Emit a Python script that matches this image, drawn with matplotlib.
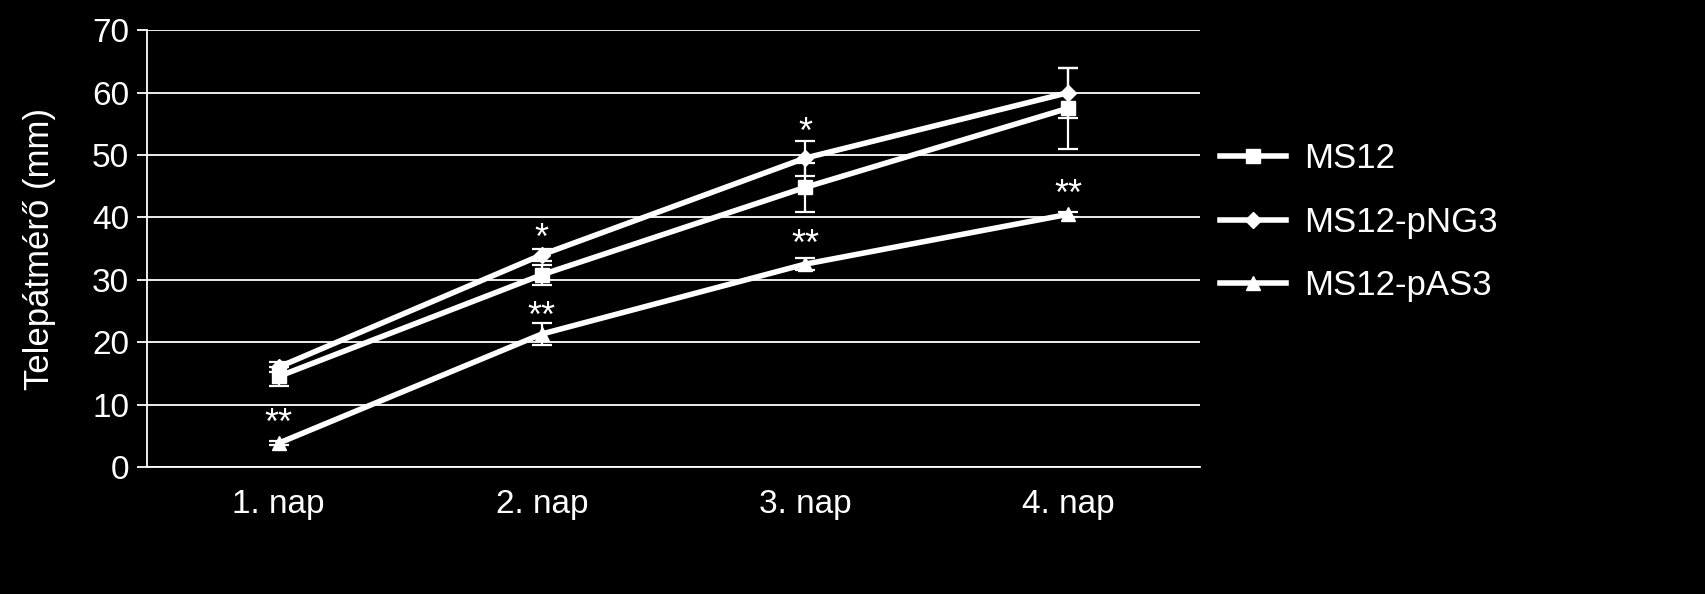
import matplotlib.pyplot as plt
from matplotlib.lines import Line2D
import numpy as np

plt.rcParams['font.family'] = ['Liberation Sans', 'DejaVu Sans']

days = ['1. nap', '2. nap', '3. nap', '4. nap']
ms12 = [14.5, 30.8, 44.8, 57.5]
ms12_err = [1.5, 1.6, 4.0, 6.5]
png3 = [16.0, 34.0, 49.5, 60.0]
png3_err = [0.8, 1.0, 2.8, 4.0]
pas3 = [3.8, 21.3, 32.5, 40.5]
pas3_err = [0.3, 1.8, 1.0, 0.4]

# significance marks: (day index, y value, text)
stars = [(0, 6.8, '**'), (1, 36.5, '*'), (1, 24.0, '**'),
         (2, 53.5, '*'), (2, 35.5, '**'), (3, 43.5, '**')]

fig = plt.figure(figsize=(17.06, 5.94), dpi=100, facecolor='black')
ax = fig.add_axes([0.0862, 0.214, 0.617, 0.735], facecolor='black')

x = np.arange(len(days))
ax.set_xlim(-0.5, 3.5)
ax.set_ylim(0, 70)
ax.set_yticks(range(0, 71, 10))
ax.grid(axis='y', color='white', linewidth=1.3)
ax.set_axisbelow(True)

handles = []
for vals, err, mk, ms, name in [(ms12, ms12_err, 's', 10, 'MS12'),
                                (png3, png3_err, 'D', 8, 'MS12-pNG3'),
                                (pas3, pas3_err, '^', 10, 'MS12-pAS3')]:
    ax.errorbar(x, vals, yerr=err, color='white', lw=4, marker=mk, ms=ms,
                ecolor='white', elinewidth=1.6, capsize=7, capthick=1.6)
    handles.append(Line2D([], [], color='white', lw=4, marker=mk, ms=ms,
                          label=name))

for i, yv, t in stars:
    ax.text(i, yv, t, color='white', fontsize=26, ha='center', va='center')

ax.set_xticks(x)
ax.set_xticklabels(days)
ax.tick_params(colors='white', labelsize=24, length=0)
ax.tick_params(axis='x', pad=16)
ax.tick_params(axis='y', length=7, width=1.3, pad=6)
for s in ['top', 'right']:
    ax.spines[s].set_visible(False)
for s in ['left', 'bottom']:
    ax.spines[s].set_color('white')
    ax.spines[s].set_linewidth(1.3)
ax.set_ylabel('Telepátmérő (mm)', color='white', fontsize=25, labelpad=26)

leg = ax.legend(handles=handles, loc='center left',
                bbox_to_anchor=(0.99, 0.56), frameon=False,
                fontsize=25, handlelength=1.9, labelspacing=0.88,
                handletextpad=0.5)
for t in leg.get_texts():
    t.set_color('white')

fig.savefig('out.png', facecolor='black')
